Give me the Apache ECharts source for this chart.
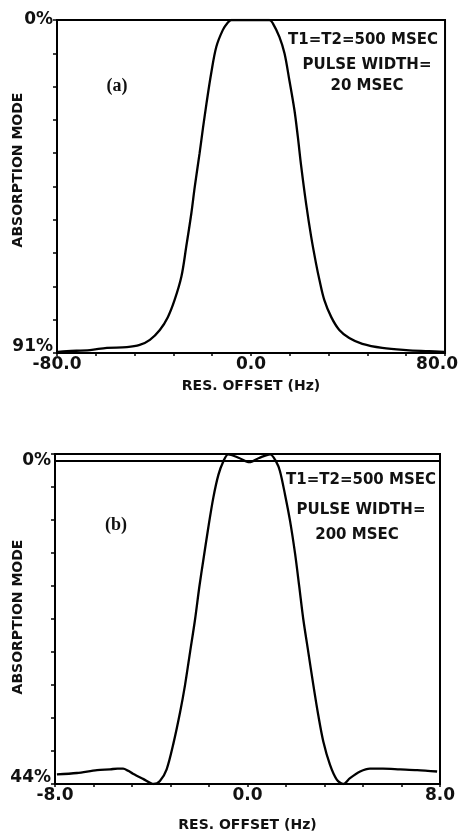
<!DOCTYPE html>
<html>
<head>
<meta charset="utf-8">
<script src="https://cdn.jsdelivr.net/npm/echarts@6/dist/echarts.min.js"></script>
<style>
html,body{margin:0;padding:0;background:#fff;}
#c{width:461px;height:833px;}
</style>
</head>
<body>
<div id="c"></div>
<script>
// ---- Data (panel a): offset in Hz, absorption mode value (axis % scale, 0 at top) ----
var aOffset = [-79.6,-75.9,-66.4,-59.4,-51.2,-45.9,-41.7,-37.6,-34.3,-31.5,-28.7,-26.7,-24.6,-23.2,-21.2,-19.8,-18.4,-16.4,-14.3,-11.6,-9.7,-8.1,-0.5,7.6,9.0,11.7,13.8,15.8,17.9,19.3,20.7,22.7,24.8,26.8,28.2,30.2,33.1,36.4,40.5,45.9,54.1,64.0,73.4,79.6];
var aValue  = [90.7,90.5,90.2,89.6,89.4,88.8,87.4,84.7,81.2,76.5,70.1,61.9,52.8,45.6,36.4,29.5,23.0,14.5,7.3,2.7,0.8,0,0,0,0.9,4.6,9.1,16.4,24.6,31.9,40.0,50.1,59.2,66.5,71.0,76.5,81.2,84.7,86.9,88.5,89.6,90.2,90.5,90.7];

// ---- Data (panel b) ----
var bOffset = [-7.92,-7.09,-6.25,-5.71,-5.40,-5.17,-4.96,-4.76,-4.34,-3.90,-3.64,-3.36,-3.08,-2.80,-2.60,-2.39,-2.18,-2.00,-1.84,-1.63,-1.42,-1.21,-1.01,-0.80,-0.35,0.08,0.48,0.94,1.19,1.35,1.56,1.77,1.98,2.15,2.32,2.53,2.74,2.94,3.15,3.43,3.71,3.98,4.26,4.68,5.09,5.63,6.34,7.05,7.88];
var bValue  = [42.7,42.5,42.1,42.0,41.9,41.9,42.2,42.6,43.3,44.0,43.6,42.0,38.5,34.2,30.6,26.1,21.6,17.1,13.6,9.1,5.0,1.9,0.1,-0.9,-0.4,0.17,-0.4,-0.9,0.1,1.4,4.6,8.2,12.7,17.1,21.6,26.1,30.6,34.6,38.2,41.4,43.4,44.0,43.2,42.3,41.9,41.9,42.0,42.1,42.3];

// ---- Axis ticks / labels ----
var aXTicks = [-80,-64,-48,-32,-16,0,16,32,48,64,80];
var aXLabels = [-80,0,80];
var aYTicks = [0,9.1,18.2,27.3,36.4,45.5,54.6,63.7,72.8,81.9,91];
var aYLabels = [0,91];
var bXTicks = [-8,-6.4,-4.8,-3.2,-1.6,0,1.6,3.2,4.8,6.4,8];
var bXLabels = [-8,0,8];
var bYTicks = [-0.94,3.55,8.05,12.54,17.04,21.53,26.02,30.52,35.01,39.51,44];
var bYLabels = [0,44];
var bZeroLine = 0;

// ---- Text ----
var yTitle = 'ABSORPTION MODE';
var xTitle = 'RES. OFFSET (Hz)';
var aNotes = ['T1=T2=500 MSEC','PULSE WIDTH=','20 MSEC'];
var bNotes = ['T1=T2=500 MSEC','PULSE WIDTH=','200 MSEC'];
var aTag = '(a)', bTag = '(b)';

function pairs(xs, ys){ return xs.map(function(x,i){ return [x, ys[i]]; }); }

var FONT = 'DejaVu Sans';
var INK = '#111';
var chart = echarts.init(document.getElementById('c'), null, {renderer:'canvas'});

function xAxisCfg(idx, min, max, ticks, labels, gap, fmt){
  return {
    type:'value', gridIndex: idx, min:min, max:max,
    name: xTitle, nameLocation:'middle', nameGap: gap,
    nameTextStyle:{fontFamily:FONT, fontSize:14, fontWeight:'bold', color:INK, verticalAlign:'top'},
    axisLine:{show:true, onZero:false, lineStyle:{color:'#000', width:2}},
    axisTick:{show:true, inside:false, length:3, customValues: ticks, lineStyle:{color:'#000', width:1.5}},
    axisLabel:{show:true, customValues: labels, margin:3, fontFamily:FONT, fontSize:17, fontWeight:'bold', color:INK, formatter: fmt,
      rich:{r:{fontFamily:FONT, fontSize:17, fontWeight:'bold', color:INK, padding:[0,16,0,0]}}},
    splitLine:{show:false}
  };
}
function yAxisCfg(idx, min, max, ticks, labels){
  return {
    type:'value', gridIndex: idx, min:min, max:max, inverse:true,
    axisLine:{show:true, onZero:false, lineStyle:{color:'#000', width:2}},
    axisTick:{show:true, inside:false, length:4, customValues: ticks, lineStyle:{color:'#000', width:1.5}},
    axisLabel:{show:true, customValues: labels, margin:4, fontFamily:FONT, fontSize:17, fontWeight:'bold', color:INK,
      formatter: function(v){ var t = Math.round(v) + '%'; return v === max ? '{b|' + t + '}' : t; },
      rich:{b:{fontFamily:FONT, fontSize:17, fontWeight:'bold', color:INK, padding:[0,0,12,0]}}},
    splitLine:{show:false}
  };
}
function txt(x, y, s, font, rot){
  var el = {type:'text', x:x, y:y, style:{text:s, font:font, fill:INK, align:'center', verticalAlign:'middle'}};
  if (rot) el.rotation = rot;
  return el;
}
var NOTE = 'bold 15px "DejaVu Sans"';
var TAG = 'bold 18px "Liberation Serif"';
var YT = 'bold 14px "DejaVu Sans"';

var option = {
  backgroundColor:'#fff',
  animation:false,
  grid:[
    {left:57, top:20, width:389, height:333, show:true, borderColor:'#000', borderWidth:2, containLabel:false},
    {left:55, top:454, width:385, height:334, show:true, borderColor:'#000', borderWidth:2, containLabel:false}
  ],
  xAxis:[
    xAxisCfg(0, -80, 80, aXTicks, aXLabels, 26, function(v){ return v === 80 ? '{r|' + v.toFixed(1) + '}' : v.toFixed(1); }),
    xAxisCfg(1, -8, 8, bXTicks, bXLabels, 34, function(v){ return v.toFixed(1); })
  ],
  yAxis:[
    yAxisCfg(0, 0, 91, aYTicks, aYLabels),
    yAxisCfg(1, -0.94, 44, bYTicks, bYLabels)
  ],
  series:[
    {type:'line', xAxisIndex:0, yAxisIndex:0, data: pairs(aOffset, aValue), showSymbol:false, smooth:0.35,
     lineStyle:{color:'#000', width:2.3}},
    {type:'line', xAxisIndex:1, yAxisIndex:1, data: pairs(bOffset, bValue), showSymbol:false, smooth:0.3,
     lineStyle:{color:'#000', width:2.3},
     markLine:{symbol:'none', silent:true, label:{show:false},
       lineStyle:{color:'#000', width:1.8, type:'solid'},
       data:[{yAxis: bZeroLine}]}}
  ],
  graphic:[
    txt(18, 170, yTitle, YT, Math.PI/2),
    txt(18, 617, yTitle, YT, Math.PI/2),
    txt(363, 40, aNotes[0], NOTE),
    txt(367, 65, aNotes[1], NOTE),
    txt(367, 86, aNotes[2], NOTE),
    txt(117, 86, aTag, TAG),
    txt(361, 480, bNotes[0], NOTE),
    txt(361, 510, bNotes[1], NOTE),
    txt(357, 535, bNotes[2], NOTE),
    txt(116, 525, bTag, TAG)
  ]
};
chart.setOption(option);
</script>
</body>
</html>
